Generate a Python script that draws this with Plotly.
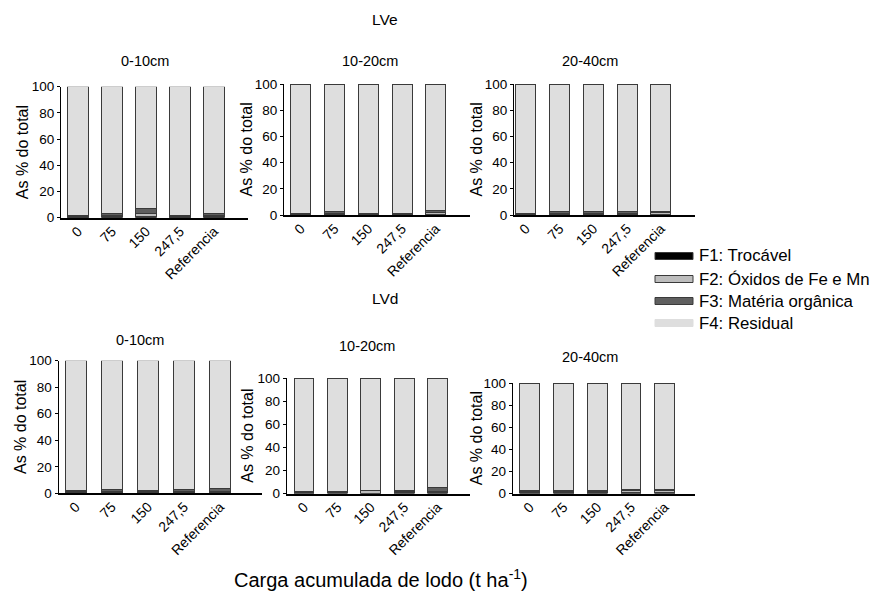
import plotly.graph_objects as go

W, H = 883, 598
OFF = 8  # page body margin offset in the screenshot

categories = ["0", "75", "150", "247,5", "Referencia"]
fractions = ["F1: Trocável", "F2: Óxidos de Fe e Mn", "F3: Matéria orgânica", "F4: Residual"]

# LVe
lve_0_10_f1 = [0.5, 0.6, 0.6, 0.5, 0.6]
lve_0_10_f2 = [0.4, 1.2, 2.4, 0.4, 1.0]
lve_0_10_f3 = [0.7, 1.5, 4.2, 0.6, 1.5]
lve_10_20_f1 = [0.4, 0.5, 0.4, 0.4, 0.5]
lve_10_20_f2 = [0.4, 1.0, 0.4, 0.3, 1.5]
lve_10_20_f3 = [0.6, 1.3, 0.6, 0.5, 1.8]
lve_20_40_f1 = [0.3, 0.5, 0.5, 0.5, 0.5]
lve_20_40_f2 = [0.3, 1.0, 1.0, 1.0, 1.2]
lve_20_40_f3 = [0.4, 1.0, 1.0, 1.0, 1.3]
# LVd
lvd_0_10_f1 = [0.6, 0.5, 0.6, 0.6, 0.6]
lvd_0_10_f2 = [0.4, 1.2, 0.8, 1.0, 1.0]
lvd_0_10_f3 = [1.0, 0.8, 1.0, 1.4, 2.4]
lvd_10_20_f1 = [0.5, 0.5, 0.4, 0.5, 0.5]
lvd_10_20_f2 = [0.4, 0.5, 1.8, 1.0, 1.0]
lvd_10_20_f3 = [0.6, 0.5, 0.6, 1.0, 3.5]
lvd_20_40_f1 = [0.6, 0.6, 0.6, 0.6, 0.6]
lvd_20_40_f2 = [1.2, 1.2, 1.6, 2.0, 1.8]
lvd_20_40_f3 = [0.5, 0.5, 0.6, 0.8, 1.0]

panel_titles = ["0-10cm", "10-20cm", "20-40cm", "0-10cm", "10-20cm", "20-40cm"]
group_titles = ["LVe", "LVd"]
y_ticks = [0, 20, 40, 60, 80, 100]
y_title = "As % do total"
x_title = "Carga acumulada de lodo (t ha<sup>-1</sup>)"

panels = [
    (lve_0_10_f1, lve_0_10_f2, lve_0_10_f3),
    (lve_10_20_f1, lve_10_20_f2, lve_10_20_f3),
    (lve_20_40_f1, lve_20_40_f2, lve_20_40_f3),
    (lvd_0_10_f1, lvd_0_10_f2, lvd_0_10_f3),
    (lvd_10_20_f1, lvd_10_20_f2, lvd_10_20_f3),
    (lvd_20_40_f1, lvd_20_40_f2, lvd_20_40_f3),
]

colors = ["#000000", "#bdbdbd", "#5f5f5f", "#dedede"]


def px(x):
    return (x - OFF) / W


def py(y):
    return 1 - (y - OFF) / H


# layout geometry in screen pixels: x0, x1, ytop(100), ybot(0), range start, range end
geom = [
    (61, 248, 86.7, 217.7, -0.5, 5.0),
    (284, 470, 84, 215, -0.5, 5.01),
    (514, 695, 84, 215, -0.35, 5.01),
    (58.5, 262, 360.7, 493.3, -0.48, 5.16),
    (286.7, 470, 378, 493.5, -0.52, 4.97),
    (512.7, 695, 383, 493.5, -0.51, 4.9),
]
title_pos = [(145, 61), (370, 61), (590, 61), (140, 340), (367, 346), (590, 357)]
ytitle_x = [22, 246, 476, 20, 248, 476]

fig = go.Figure()
FONT = "Liberation Sans, Arial, sans-serif"


def ann(text, x, y, size, angle=0, xanchor="center"):
    fig.add_annotation(text=text, x=px(x), y=py(y), xref="paper", yref="paper",
                       xanchor=xanchor, yanchor="middle", textangle=angle,
                       showarrow=False, font=dict(size=size, color="black", family=FONT))


for i, (f1, f2, f3) in enumerate(panels):
    f4 = [100 - a - b - c for a, b, c in zip(f1, f2, f3)]
    ax = "" if i == 0 else str(i + 1)
    for name, vals, col in zip(fractions, [f1, f2, f3, f4], colors):
        fig.add_trace(go.Bar(
            x=categories, y=vals, name=name, xaxis="x" + ax, yaxis="y" + ax,
            marker=dict(color=col, line=dict(color="#3a3a3a", width=1)),
            showlegend=False,
        ))
    x0, x1, yt, yb, r0, r1 = geom[i]
    fig.layout["xaxis" + ax] = dict(
        domain=[px(x0), px(x1)], anchor="y" + ax, range=[r0, r1], automargin=False,
        showline=True, linecolor="black", linewidth=2, ticks="",
        tickangle=-45, ticklabelstandoff=-2,
        tickfont=dict(size=14, color="black", family=FONT),
        showgrid=False, zeroline=False, type="category",
    )
    fig.layout["yaxis" + ax] = dict(
        domain=[py(yb), py(yt)], anchor="x" + ax, range=[0, 100], automargin=False,
        tickvals=y_ticks, showline=True, linecolor="black", linewidth=1,
        ticks="outside", ticklen=3, tickcolor="black",
        tickfont=dict(size=13.5, color="black", family=FONT),
        showgrid=False, zeroline=False,
    )
    tx, ty = title_pos[i]
    ann(panel_titles[i], tx, ty, 14.5)
    ann(y_title, ytitle_x[i], (yt + yb) / 2, 16, angle=-90)

ann(group_titles[0], 385, 20, 15.5)
ann(group_titles[1], 385, 298, 15.5)
ann(x_title, 381, 578, 20)

# legend (drawn manually to get wide swatches)
leg_rows = [256, 279, 301, 323]
for k, (name, col, ry) in enumerate(zip(fractions, colors, leg_rows)):
    h = 3.5
    fig.add_shape(type="rect", xref="paper", yref="paper",
                  x0=px(655), x1=px(693), y0=py(ry + h), y1=py(ry - h),
                  fillcolor=col, line=dict(color="#3a3a3a" if k < 3 else col, width=1))
    ann(name, 697, ry, 16.8, xanchor="left")

fig.update_layout(
    width=W, height=H, barmode="stack", bargap=0.41,
    margin=dict(l=0, r=0, t=0, b=0),
    paper_bgcolor="white", plot_bgcolor="white",
    showlegend=False,
)
fig.write_html("out.html")
